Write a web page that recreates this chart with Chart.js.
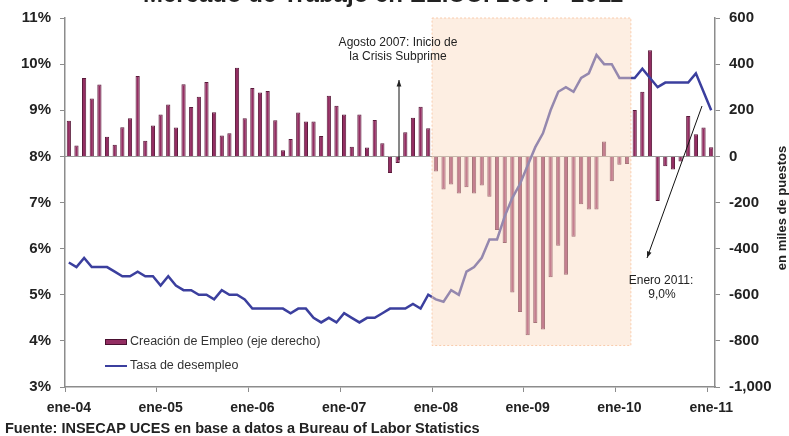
<!DOCTYPE html>
<html lang="es">
<head>
<meta charset="utf-8">
<title>Mercado de Trabajo en EE.UU. 2004 - 2011</title>
<script src="https://cdn.jsdelivr.net/npm/chart.js@4/dist/chart.umd.min.js"></script>
<style>
  html, body { margin: 0; padding: 0; background: #fff; }
  #contenedor { position: relative; width: 789px; height: 436px; }
</style>
</head>
<body>
<div id="contenedor"><canvas id="grafico"></canvas></div>
<script>
// Meses y años del eje X (ene-04 ... ene-11)
const meses = ['ene', 'feb', 'mar', 'abr', 'may', 'jun', 'jul', 'ago', 'sep', 'oct', 'nov', 'dic'];
const anios = ['04', '05', '06', '07', '08', '09', '10'];
const etiquetas = [];
anios.forEach(a => meses.forEach(m => etiquetas.push(m + '-' + a)));
etiquetas.push('ene-11');

// Creación de empleo, miles de puestos (eje derecho)
const creacionEmpleo = [
    154, 47, 340, 251, 312, 85, 50, 126, 165, 349, 68, 134,        // 2004
    182, 225, 125, 313, 214, 259, 323, 191, 91, 100, 384, 165,     // 2005
    297, 277, 283, 157, 27, 75, 190, 151, 151, 88, 263, 220,       // 2006
    182, 42, 182, 39, 158, 57, -72, -29, 105, 168, 215, 122,       // 2007
    -66, -144, -122, -161, -134, -161, -126, -175, -319, -376, -590, -675, // 2008
    -776, -723, -751, -524, -388, -513, -349, -208, -230, -230, 65, -108,  // 2009
    -36, -33, 201, 280, 460, -194, -43, -57, -22, 175, 96, 125,    // 2010
    40                                                            // 2011
];

// Tasa de desempleo, % (eje izquierdo)
const tasaDesempleo = [
    5.7, 5.6, 5.8, 5.6, 5.6, 5.6, 5.5, 5.4, 5.4, 5.5, 5.4, 5.4,
    5.2, 5.4, 5.2, 5.1, 5.1, 5.0, 5.0, 4.9, 5.1, 5.0, 5.0, 4.9,
    4.7, 4.7, 4.7, 4.7, 4.7, 4.6, 4.7, 4.7, 4.5, 4.4, 4.5, 4.4,
    4.6, 4.5, 4.4, 4.5, 4.5, 4.6, 4.7, 4.7, 4.7, 4.8, 4.7, 5.0,
    4.9, 4.85, 5.1, 5.0, 5.5, 5.6, 5.8, 6.2, 6.2, 6.7, 7.1, 7.4,
    7.8, 8.2, 8.5, 9.0, 9.4, 9.5, 9.4, 9.7, 9.8, 10.2, 10.0, 10.0,
    9.7, 9.7, 9.7, 9.9, 9.7, 9.5, 9.6, 9.6, 9.6, 9.6, 9.8, 9.4,
    9.0
];

// Rangos de los ejes y periodo sombreado de la crisis
const rangoTasa = [3, 11];
const rangoEmpleo = [-1000, 600];
const periodoCrisis = ['ene-08', 'feb-10'];
const fondoCrisis = [600, -820];

const COLOR_BARRA = '#932d62';
const COLOR_LINEA = '#3b3f9e';
const COLOR_EJE = '#8c8c8c';
const FUENTE = "'Liberation Sans', Arial, sans-serif";

Chart.defaults.font.family = FUENTE;
Chart.defaults.color = '#222';

// Flecha simple con punta en (x2, y2)
function flecha(ctx, x1, y1, x2, y2) {
    const ang = Math.atan2(y2 - y1, x2 - x1);
    ctx.beginPath();
    ctx.moveTo(x1, y1);
    ctx.lineTo(x2, y2);
    ctx.stroke();
    ctx.beginPath();
    ctx.moveTo(x2, y2);
    ctx.lineTo(x2 - 7 * Math.cos(ang - 0.35), y2 - 7 * Math.sin(ang - 0.35));
    ctx.lineTo(x2 - 7 * Math.cos(ang + 0.35), y2 - 7 * Math.sin(ang + 0.35));
    ctx.closePath();
    ctx.fill();
}

// Sombreado del periodo de crisis (encima de las series, semitransparente)
const sombreado = {
    id: 'sombreado',
    afterDatasetsDraw(chart) {
        const x = chart.scales.x, y2 = chart.scales.y2;
        const paso = x.getPixelForValue(1) - x.getPixelForValue(0);
        const x0 = x.getPixelForValue(etiquetas.indexOf(periodoCrisis[0])) - paso / 2;
        const x1 = x.getPixelForValue(etiquetas.indexOf(periodoCrisis[1])) + paso / 2;
        const yA = y2.getPixelForValue(fondoCrisis[0]);
        const yB = y2.getPixelForValue(fondoCrisis[1]);
        const ctx = chart.ctx;
        ctx.save();
        ctx.fillStyle = 'rgba(251, 219, 194, 0.47)';
        ctx.fillRect(x0, yA, x1 - x0, yB - yA);
        ctx.strokeStyle = 'rgba(248, 200, 165, 0.9)';
        ctx.lineWidth = 1;
        ctx.setLineDash([2, 2]);
        ctx.strokeRect(x0, yA, x1 - x0, yB - yA);
        ctx.restore();
    }
};

// Título, leyenda, notas y fuente
const textos = {
    id: 'textos',
    afterDraw(chart) {
        const ctx = chart.ctx;
        ctx.save();

        // título (cortado en el borde superior)
        ctx.fillStyle = '#222';
        ctx.font = 'bold 24px ' + FUENTE;
        ctx.textAlign = 'center';
        ctx.textBaseline = 'alphabetic';
        ctx.fillText('Mercado de Trabajo en EE.UU. 2004 - 2011', 383, 2);

        // leyenda
        ctx.fillStyle = COLOR_BARRA;
        ctx.fillRect(105, 339, 22, 6);
        ctx.strokeStyle = '#4a1030';
        ctx.lineWidth = 1;
        ctx.strokeRect(105.5, 339.5, 21, 5);
        ctx.strokeStyle = COLOR_LINEA;
        ctx.lineWidth = 2;
        ctx.beginPath();
        ctx.moveTo(105, 366);
        ctx.lineTo(127, 366);
        ctx.stroke();
        ctx.fillStyle = '#333';
        ctx.font = '12.5px ' + FUENTE;
        ctx.textAlign = 'left';
        ctx.textBaseline = 'middle';
        ctx.fillText('Creación de Empleo (eje derecho)', 130, 342);
        ctx.fillText('Tasa de desempleo', 130, 366);

        // notas
        ctx.font = '12px ' + FUENTE;
        ctx.textAlign = 'center';
        ctx.fillStyle = '#222';
        ctx.fillText('Agosto 2007: Inicio de', 398, 43);
        ctx.fillText('la Crisis Subprime', 398, 57);
        ctx.fillText('Enero 2011:', 661, 281);
        ctx.fillText('9,0%', 662, 295);
        ctx.strokeStyle = '#111';
        ctx.lineWidth = 1;
        flecha(ctx, 399, 160, 399, 80);
        flecha(ctx, 702, 106, 647, 258);

        // título eje derecho
        ctx.save();
        ctx.translate(782, 208);
        ctx.rotate(-Math.PI / 2);
        ctx.font = 'bold 13px ' + FUENTE;
        ctx.fillStyle = '#222';
        ctx.fillText('en miles de puestos', 0, 0);
        ctx.restore();

        // fuente
        ctx.font = 'bold 14.5px ' + FUENTE;
        ctx.textAlign = 'left';
        ctx.fillStyle = '#222';
        ctx.fillText('Fuente: INSECAP UCES en base a datos a Bureau of Labor Statistics', 5, 429);

        ctx.restore();
    }
};

new Chart(document.getElementById('grafico'), {
    type: 'bar',
    data: {
        labels: etiquetas,
        datasets: [
            {
                type: 'line',
                label: 'Tasa de desempleo',
                data: tasaDesempleo,
                yAxisID: 'y',
                borderColor: COLOR_LINEA,
                borderWidth: 2.5,
                pointRadius: 0,
                tension: 0,
                order: 0
            },
            {
                label: 'Creación de Empleo (eje derecho)',
                data: creacionEmpleo,
                yAxisID: 'y2',
                backgroundColor: COLOR_BARRA,
                borderColor: '#5a1a3a',
                borderWidth: 1,
                barPercentage: 0.55,
                categoryPercentage: 1,
                order: 1
            }
        ]
    },
    options: {
        responsive: true,
        maintainAspectRatio: false,
        animation: false,
        layout: { padding: { top: 16, left: 0, right: 0, bottom: 0 } },
        plugins: {
            legend: { display: false },
            tooltip: { enabled: false }
        },
        scales: {
            x: {
                offset: true,
                afterFit: s => { s.height = 49; },
                border: { color: COLOR_EJE, width: 1.5 },
                grid: {
                    offset: true,
                    drawOnChartArea: false,
                    tickLength: 5,
                    color: c => (etiquetas[c.index] || '').startsWith('ene') ? COLOR_EJE : 'transparent'
                },
                ticks: {
                    autoSkip: false,
                    maxRotation: 0,
                    minRotation: 0,
                    padding: 8,
                    color: '#222',
                    font: { size: 14, weight: 'bold' },
                    callback: function(v, i) {
                        return etiquetas[i].startsWith('ene') ? etiquetas[i] : '';
                    }
                }
            },
            y: {
                position: 'left',
                min: rangoTasa[0],
                max: rangoTasa[1],
                afterFit: s => { s.width = 65; },
                border: { color: COLOR_EJE, width: 1.5 },
                grid: { drawOnChartArea: false, tickLength: 5, color: COLOR_EJE },
                ticks: {
                    stepSize: 1,
                    padding: 9,
                    color: '#222',
                    font: { size: 15, weight: 'bold' },
                    callback: v => v + '%'
                }
            },
            y2: {
                position: 'right',
                min: rangoEmpleo[0],
                max: rangoEmpleo[1],
                afterFit: s => { s.width = 74; },
                border: { color: COLOR_EJE, width: 1.5 },
                grid: {
                    drawOnChartArea: true,
                    tickLength: 5,
                    tickColor: COLOR_EJE,
                    color: c => c.tick && c.tick.value === 0 ? '#9a9a9a' : 'transparent'
                },
                ticks: {
                    stepSize: 200,
                    padding: 9,
                    color: '#222',
                    font: { size: 15, weight: 'bold' }
                }
            }
        }
    },
    plugins: [sombreado, textos]
});
</script>
</body>
</html>
